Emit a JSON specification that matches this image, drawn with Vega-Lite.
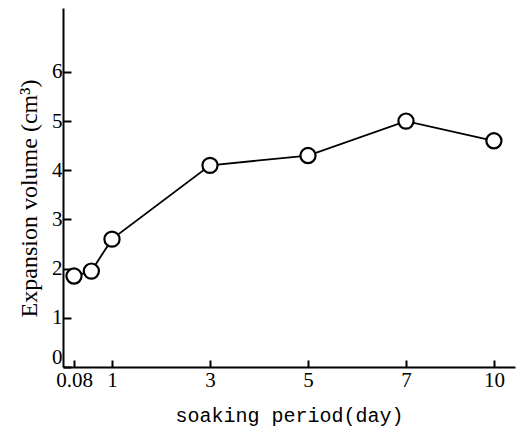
{
  "$schema": "https://vega.github.io/schema/vega-lite/v6.json",
  "autosize": "none",
  "width": 452,
  "height": 359,
  "padding": {"left": 63, "top": 8, "right": 11, "bottom": 70},
  "background": "white",
  "config": {
    "view": {"stroke": null},
    "axis": {"grid": false, "domainColor": "black", "domainWidth": 2, "tickColor": "black", "tickWidth": 2, "labelColor": "black", "titleColor": "black", "labelFont": "Liberation Serif", "titleFont": "Liberation Mono", "titleFontWeight": "normal"}
  },
  "data": {"values": [
    {"day": 0.08, "volume": 1.85},
    {"day": 0.5, "volume": 1.95},
    {"day": 1, "volume": 2.6},
    {"day": 3, "volume": 4.1},
    {"day": 5, "volume": 4.3},
    {"day": 7, "volume": 5.0},
    {"day": 10, "volume": 4.6}
  ]},
  "encoding": {
    "x": {"field": "day", "type": "quantitative",
      "scale": {"domain": [0, 0.08, 1, 7, 10.72], "range": [0, 11, 49, 343, 452], "nice": false, "zero": false},
      "axis": {"values": [0.08, 1, 3, 5, 7, 10], "labelExpr": "datum.value == 0.08 ? '0.08' : datum.label", "tickSize": -7, "labelPadding": 9, "labelFontSize": 21, "title": "soaking period(day)", "titleFontSize": 20, "titlePadding": 15}},
    "y": {"field": "volume", "type": "quantitative",
      "scale": {"domain": [0, 7.3], "nice": false},
      "axis": {"values": [0, 1, 2, 3, 4, 5, 6], "tickSize": -8, "labelPadding": 9, "labelFontSize": 21,
        "labelBaseline": {"condition": {"test": "datum.value == 0", "value": "bottom"}, "value": "middle"},
        "title": "Expansion volume (cm³)", "titleFont": "Liberation Serif", "titleFontSize": 24, "titlePadding": 10, "titleY": 190}}
  },
  "layer": [
    {"mark": {"type": "line", "color": "black", "strokeWidth": 1.8}},
    {"mark": {"type": "point", "shape": "circle", "filled": false, "fill": "white", "fillOpacity": 1, "stroke": "black", "strokeWidth": 2.2, "size": 230, "opacity": 1}}
  ]
}
